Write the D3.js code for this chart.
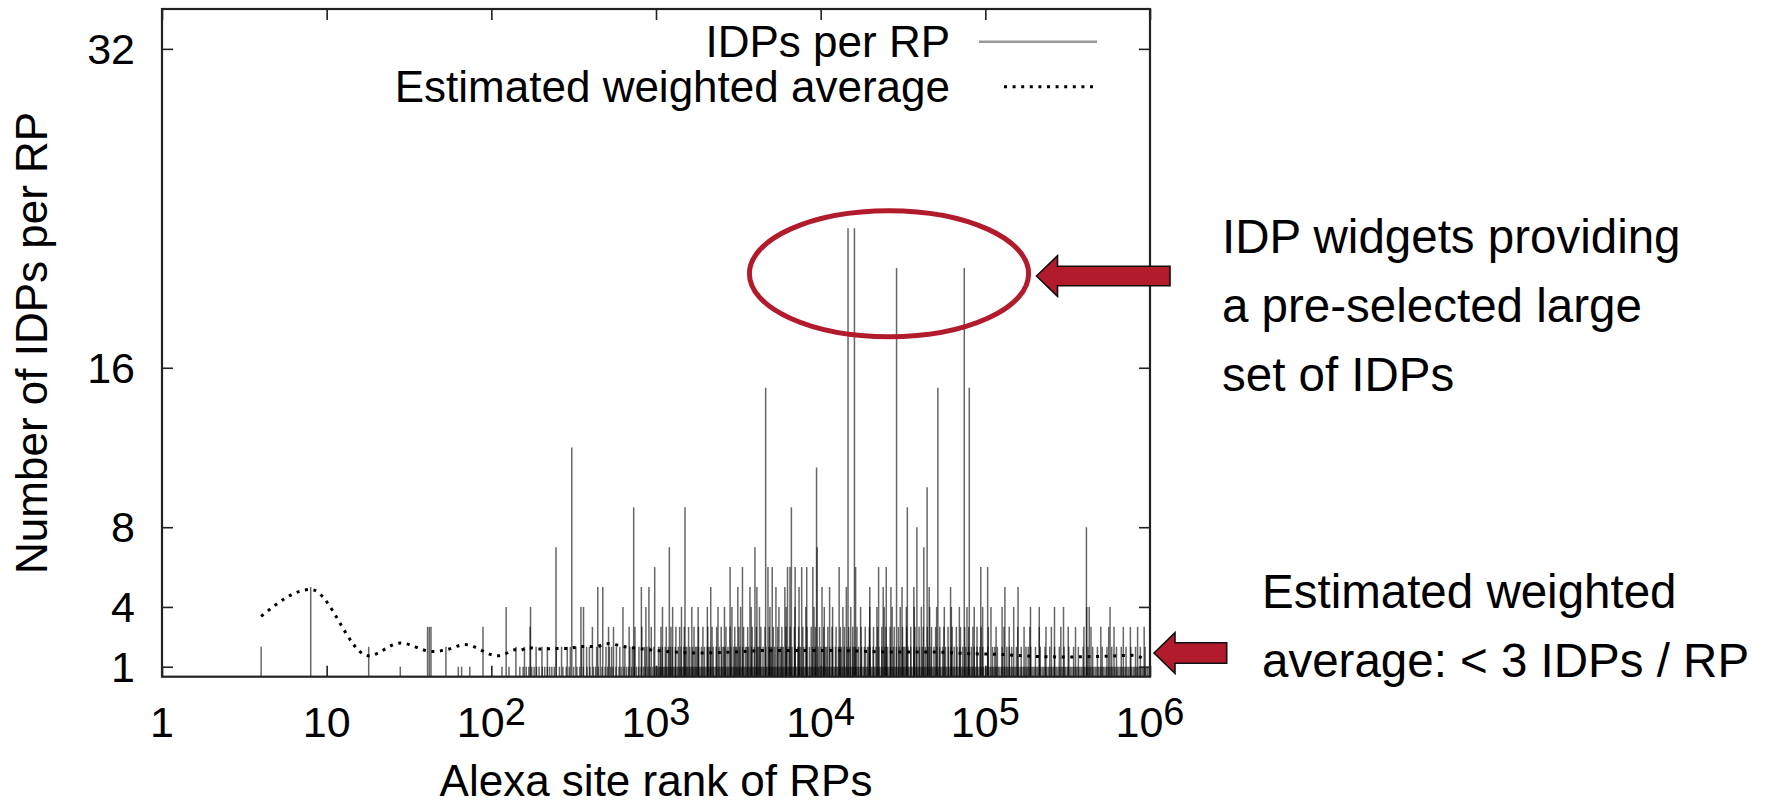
<!DOCTYPE html>
<html><head><meta charset="utf-8">
<script src="https://cdn.jsdelivr.net/npm/d3@7"></script>
<style>
body{margin:0;background:#fff}
svg{display:block}
text{font-family:"Liberation Sans",Arial,Helvetica,sans-serif;fill:#000}
</style>
</head><body>
<svg id="c" width="1770" height="807"></svg>
<script>
// ---------------- DATA ----------------
const xTickExponents = [0, 1, 2, 3, 4, 5, 6];
const yTickValues = [1, 4, 8, 16, 32];
const xAxisTitle = "Alexa site rank of RPs";
const yAxisTitle = "Number of IDPs per RP";
const legendLabels = ["IDPs per RP", "Estimated weighted average"];

// Alexa ranks of RPs, grouped by number of IDPs per RP (read from the spikes)
const rpRanksIDP1 = [28, 63, 66, 74, 116, 128, 149, 156, 163, 169, 176, 182, 188, 195, 204, 211, 219, 226, 233, 241, 259, 272, 285, 297, 316, 331, 344, 362, 381, 397, 416, 429, 447, 470, 491, 509, 531, 548, 571, 596, 614, 639, 662, 681, 709, 736, 761, 784, 812, 838, 861, 894, 923, 957, 984,
 1006, 1024, 1047, 1066, 1083, 1108, 1129, 1151, 1169, 1194, 1219, 1243, 1271, 1298, 1322, 1354, 1383, 1409, 1441, 1467, 1498, 1532, 1561, 1594, 1628, 1660, 1697, 1734, 1768, 1803, 1845, 1881, 1923, 1961, 2006, 2047, 2093, 2135, 2184, 2229, 2279, 2326, 2381, 2430, 2486, 2537, 2597, 2652, 2711, 2769, 2833, 2891, 2958, 3021, 3089, 3155, 3229, 3296, 3373, 3445, 3522, 3598, 3681, 3760, 3847, 3929, 4019, 4106, 4198, 4291, 4389, 4483, 4587, 4686, 4791, 4898, 5007, 5121, 5234, 5352, 5471, 5596, 5718, 5849, 5977, 6113, 6248, 6389, 6531, 6679, 6826, 6981, 7134, 7298, 7457, 7628, 7795, 7973, 8147, 8334, 8516, 8712, 8901, 9106, 9304, 9519, 9725, 9951,
 10180, 10390, 10640, 10870, 11120, 11350, 11610, 11870, 12130, 12400, 12690, 12960, 13260, 13560, 13870, 14170, 14510, 14830, 15170, 15510, 15860, 16220, 16590, 16960, 17350, 17740, 18150, 18560, 18980, 19410, 19850, 20300, 20770, 21230, 21720, 22210, 22710, 23230, 23750, 24290, 24850, 25410, 25990, 26580, 27180, 27800, 28430, 29080, 29740, 30410, 31110, 31810, 32540, 33270, 34030, 34800, 35590, 36400, 37230, 38070, 38940, 39820, 40730, 41650, 42600, 43560, 44550, 45570, 46600, 47660, 48740, 49850, 50990, 52140, 53330, 54540, 55780, 57040, 58340, 59670, 61020, 62410, 63830, 65280, 66760, 68280, 69830, 71420, 73040, 74700, 76400, 78140, 79910, 81730, 83590, 85490, 87430, 89420, 91450, 93530, 95660, 97830,
 100620, 102840, 105190, 107420, 109880, 112230, 114800, 117260, 119950, 122490, 125330, 127980, 130910, 133720, 136800, 139660, 142920, 145930, 149300, 152490, 156010, 159290, 162980, 166450, 170260, 173870, 177900, 181650, 185860, 189760, 194190, 198270, 202870, 207180, 211930, 216460, 221430, 226180, 231390, 236300, 241770, 246880, 252620, 257960, 263940, 269530, 275790, 281620, 288160, 294290, 301100, 307490, 314640, 321280, 328760, 335750, 343510, 350860, 358980, 366610, 375170, 383070, 391980, 400310, 409590, 418240, 427970, 437010, 447150, 456640, 467240, 477130, 488210, 498580, 510090, 520930, 533050, 544330, 557060, 568890, 582110, 594450, 608260, 621210, 635550, 649040, 664100, 678140, 693910, 708640, 725050, 740400, 757560, 773680, 791510, 808360, 827070, 844560, 864030, 882530, 902890, 922010, 943310, 963390, 985620];

const rpRanksIDP2 = [4, 18, 53, 141, 159, 187, 203, 219, 248, 267, 289, 302, 326, 353, 379, 394, 436, 459, 497, 521, 538, 575, 603, 647, 694, 718, 741, 788, 853, 881, 912, 971,
 1036, 1061, 1093, 1138, 1187, 1219, 1256, 1309, 1366, 1418, 1477, 1512, 1541, 1604, 1668, 1738, 1772, 1815, 1889, 1969, 2049, 2093, 2139, 2226, 2321, 2418, 2517, 2574, 2627, 2735, 2852, 2968, 3041, 3094, 3223, 3357, 3498, 3566, 3641, 3795, 3951, 4118, 4198, 4285, 4464, 4648, 4843, 4947, 5042, 5253, 5467, 5697, 5811, 5928, 6177, 6430, 6699, 6972, 7265, 7401, 7561, 7878, 8201, 8543, 8893, 9266, 9645,
 10046, 10459, 10682, 10895, 11341, 11814, 12298, 12812, 13071, 13334, 13892, 14459, 15063, 15679, 16009, 16336, 17003, 17715, 18440, 19211, 19602, 19995, 20833, 21684, 22592, 23516, 24499, 24997, 25501, 26565, 27653, 28810, 29987, 31246, 31881, 32518, 33881, 35260, 36734, 38234, 39836, 41456, 43196, 44954, 46834, 48746, 50779, 52853, 55067, 57309, 59705, 62144, 64689, 67326, 70088, 72944, 75916, 79017, 82254, 85601, 89104, 92743, 96531,
 103400, 110700, 114200, 118300, 126500, 135100, 139800, 144600, 154500, 165200, 176400, 182100, 188700, 201600, 215600, 230400, 246300, 263200, 281400, 300800, 321500, 343600, 367300, 392700, 419700, 448600, 479500, 512600, 547900, 585600, 626000, 669200, 715300, 764600, 817300, 873600, 933800];

const rpRanksIDP3 = [41, 42, 43, 89, 172, 411, 515, 552, 687, 745, 820, 936,
 1072, 1154, 1233, 1321, 1392, 1486, 1577, 1702, 1811, 1927, 2062, 2190, 2337, 2489, 2661, 2817, 3008, 3187, 3402, 3603, 3839, 4071, 4332, 4587, 4874, 5159, 5484, 5812, 6158, 6534, 6926, 7351, 7789, 8262, 8760, 9288, 9841,
 10437, 11052, 11724, 12408, 13172, 13948, 14793, 15667, 16614, 17593, 18652, 19753, 20944, 22181, 23519, 24907, 26410, 27967, 29652, 31402, 33293, 35257, 37380, 39593, 41969, 44452, 47122, 49897, 52907, 56024, 59388, 62897, 66683, 70628, 74870, 79286, 84052, 89023, 94353,
 104300, 116200, 129800, 139600, 157300, 171900, 186400, 212700, 233500, 251800, 287400, 318600, 352900, 396800, 438200, 502600, 561300, 604800, 688400, 760000, 841000, 921700];

const rpRanksIDP4 = [123, 173, 350, 363, 630, 868,
 1095, 1262, 1428, 1650, 1802, 2050, 2380, 2605, 2890, 3265, 3785, 4250, 4920, 5580, 6170, 6980, 8120, 9110,
 10520, 11820, 13640, 15230, 17480, 19860, 21950, 24310, 27180, 30420, 33150, 37010, 40870, 45900, 50620, 56340, 62180, 69550, 77350, 85640, 96300,
 108200, 126400, 148700, 188000, 212600, 263000, 298400, 413000, 427500, 572000];

const rpRanksIDP5 = [8, 443, 475, 815, 906, 2150, 3140, 3720, 4100, 5350, 6060, 7390, 10190, 11330, 14320, 19870, 23970, 26700, 31200, 36800, 45600, 61500, 131500, 158000];

const rpRanksIDP6 = [982, 2818, 3350, 4786, 5080, 6290, 6510, 7000, 7670, 8230, 8960, 12950, 16300, 22480, 25020, 93800, 103300];

const rpRanksIDP7 = [247, 1205, 3990, 9520, 42300];
const rpRanksIDP8 = [38400, 411000];
const rpRanksIDP9 = [732, 1500, 6640, 33600];
const rpRanksIDP10 = [44300];
const rpRanksIDP11 = [9440];
const rpRanksIDP12 = [308];
const rpRanksIDP15 = [4634, 51500, 79900];
const rpRanksIDP21 = [28900, 74500];
const rpRanksIDP23 = [14660, 16040];

// Estimated weighted average (dotted curve)
const avgRanks = [4, 8, 18, 28, 44, 53, 69, 109, 118, 142, 149, 167, 198, 244, 287, 362, 438, 502, 664, 878, 1274, 1849, 2935, 4699, 7485, 11880, 19030, 27600, 31750, 48300, 77100, 122700, 195500, 312000, 496700, 791000, 933000];
const avgValues = [3.53, 4.88, 1.55, 2.19, 1.76, 1.85, 2.11, 1.55, 1.61, 1.86, 1.82, 1.96, 1.89, 1.91, 1.92, 2.02, 2.02, 2.16, 1.99, 1.87, 1.74, 1.69, 1.74, 1.82, 1.82, 1.82, 1.77, 1.74, 1.74, 1.74, 1.66, 1.62, 1.52, 1.49, 1.52, 1.57, 1.36];

const noteTop = ["IDP widgets providing", "a pre-selected large", "set of IDPs"];
const noteBottom = ["Estimated weighted", "average: < 3 IDPs / RP"];

// ---------------- CHART ----------------
const svg = d3.select("#c");
const P = {left: 162, right: 1150, top: 9, bottom: 676.7};
const x = d3.scaleLog().domain([1, 1e6]).range([P.left, P.right]);
const y = d3.scaleLinear().domain([0.5, 34]).range([P.bottom, P.top]);

const groups = [[1, rpRanksIDP1], [2, rpRanksIDP2], [3, rpRanksIDP3], [4, rpRanksIDP4], [5, rpRanksIDP5], [6, rpRanksIDP6], [7, rpRanksIDP7], [8, rpRanksIDP8], [9, rpRanksIDP9], [10, rpRanksIDP10], [11, rpRanksIDP11], [12, rpRanksIDP12], [15, rpRanksIDP15], [21, rpRanksIDP21], [23, rpRanksIDP23]];
const spikes = [];
groups.forEach(([v, ranks]) => ranks.forEach(r => spikes.push({rank: r, idps: v})));

svg.append("g").selectAll("line").data(spikes).join("line")
  .attr("x1", d => x(d.rank)).attr("x2", d => x(d.rank))
  .attr("y1", y(0.5)).attr("y2", d => y(d.idps))
  .attr("stroke", "#000").attr("stroke-opacity", 0.6).attr("stroke-width", 1.5);

// weighted average
const avgData = avgRanks.map((r, i) => ({rank: r, v: avgValues[i]}));
svg.append("path").datum(avgData)
  .attr("d", d3.line().x(d => x(d.rank)).y(d => y(d.v)).curve(d3.curveMonotoneX))
  .attr("fill", "none").attr("stroke", "#000").attr("stroke-width", 3)
  .attr("stroke-dasharray", "3,5.6");

// axes ticks (inward, mirrored)
const xTickValues = xTickExponents.map(e => Math.pow(10, e));
const tickStyle = g => { g.select(".domain").remove(); g.selectAll(".tick line").attr("stroke", "#222").attr("stroke-width", 1.6); };
svg.append("g").attr("transform", `translate(0,${P.bottom})`).call(d3.axisBottom(x).tickValues(xTickValues).tickSize(-11).tickFormat("")).call(tickStyle);
svg.append("g").attr("transform", `translate(0,${P.top})`).call(d3.axisTop(x).tickValues(xTickValues).tickSize(-11).tickFormat("")).call(tickStyle);
svg.append("g").attr("transform", `translate(${P.left},0)`).call(d3.axisLeft(y).tickValues(yTickValues).tickSize(-11).tickFormat("")).call(tickStyle);
svg.append("g").attr("transform", `translate(${P.right},0)`).call(d3.axisRight(y).tickValues(yTickValues).tickSize(-11).tickFormat("")).call(tickStyle);

svg.append("rect").attr("x", P.left).attr("y", P.top).attr("width", P.right - P.left).attr("height", P.bottom - P.top)
  .attr("fill", "none").attr("stroke", "#222").attr("stroke-width", 2.2);

// y tick labels
svg.append("g").selectAll("text").data(yTickValues).join("text")
  .attr("x", 135).attr("y", d => y(d) + 15).attr("text-anchor", "end")
  .attr("font-size", 43).text(d => d);

// x tick labels
const xl = svg.append("g").selectAll("text").data(xTickExponents).join("text")
  .attr("x", e => x(Math.pow(10, e))).attr("y", 737).attr("text-anchor", "middle").attr("font-size", 43);
xl.each(function(e) {
  const t = d3.select(this);
  if (e === 0) t.text("1");
  else if (e === 1) t.text("10");
  else { t.append("tspan").text("10"); t.append("tspan").attr("dy", -12).attr("font-size", 38).text(e); }
});

// axis titles
svg.append("text").attr("x", (P.left + P.right) / 2).attr("y", 796).attr("text-anchor", "middle").attr("font-size", 44).text(xAxisTitle);
svg.append("text").attr("transform", `translate(47,${(P.top + P.bottom) / 2}) rotate(-90)`).attr("text-anchor", "middle").attr("font-size", 44).text(yAxisTitle);

// legend
svg.append("text").attr("x", 950).attr("y", 56.7).attr("text-anchor", "end").attr("font-size", 44).text(legendLabels[0]);
svg.append("text").attr("x", 950).attr("y", 101.7).attr("text-anchor", "end").attr("font-size", 44).text(legendLabels[1]);
svg.append("line").attr("x1", 979).attr("x2", 1097).attr("y1", 41.7).attr("y2", 41.7).attr("stroke", "#999").attr("stroke-width", 2.5);
svg.append("line").attr("x1", 1004).attr("x2", 1096).attr("y1", 86.7).attr("y2", 86.7).attr("stroke", "#000").attr("stroke-width", 3).attr("stroke-dasharray", "3,5.6");

// annotations
const red = "#B11B2C";
svg.append("ellipse").attr("cx", 889).attr("cy", 273.7).attr("rx", 139.6).attr("ry", 63)
  .attr("fill", "none").attr("stroke", red).attr("stroke-width", 5);
function arrow(tipX, tipY, headBack, headHalf, shaftHalf, endX) {
  const pts = [[tipX, tipY], [headBack, tipY - headHalf], [headBack, tipY - shaftHalf], [endX, tipY - shaftHalf], [endX, tipY + shaftHalf], [headBack, tipY + shaftHalf], [headBack, tipY + headHalf]];
  svg.append("path").attr("d", d3.line()(pts) + "Z").attr("fill", red).attr("stroke", "#111").attr("stroke-width", 1.6);
}
arrow(1036.5, 276, 1057.5, 20.3, 9.7, 1170);
arrow(1154, 653, 1175, 20.3, 10.3, 1226.7);

svg.append("g").selectAll("text").data(noteTop).join("text")
  .attr("x", 1222).attr("y", (d, i) => 253 + i * 69).attr("font-size", 47.5).text(d => d);
svg.append("g").selectAll("text").data(noteBottom).join("text")
  .attr("x", 1262).attr("y", (d, i) => 608.3 + i * 68.4).attr("font-size", 47.5).text(d => d);
</script>
</body></html>
